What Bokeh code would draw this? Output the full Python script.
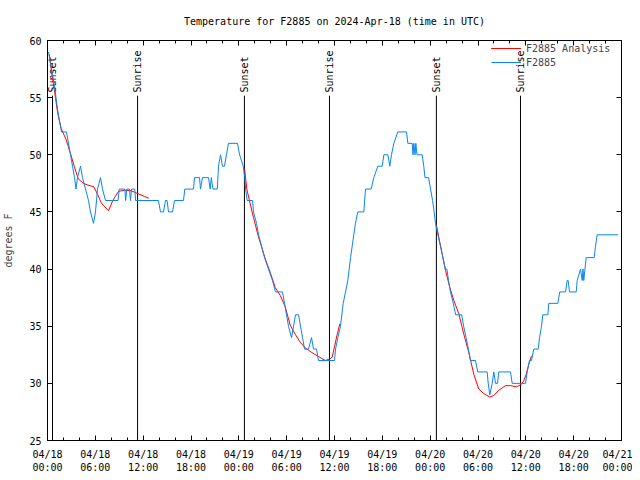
from math import pi
from bokeh.plotting import figure
from bokeh.models import Range1d, FixedTicker, LinearAxis, CustomJSTickFormatter
from bokeh.core.properties import value
from bokeh.embed import file_html
from bokeh.resources import INLINE

FONT = "DejaVu Sans Mono"

title_text = "Temperature for F2885 on 2024-Apr-18 (time in UTC)"
y_label = "degrees F"

# hours since 04/18 00:00 UTC
x_tick_hours = [0, 6, 12, 18, 24, 30, 36, 42, 48, 54, 60, 66, 72]
x_tick_labels = ["04/18\n00:00", "04/18\n06:00", "04/18\n12:00", "04/18\n18:00",
                 "04/19\n00:00", "04/19\n06:00", "04/19\n12:00", "04/19\n18:00",
                 "04/20\n00:00", "04/20\n06:00", "04/20\n12:00", "04/20\n18:00",
                 "04/21\n00:00"]
x_minor_hours = list(range(0, 73, 2))
y_ticks = [25, 30, 35, 40, 45, 50, 55, 60]

sunset_hours = [0.63, 24.7, 48.78]
sunrise_hours = [11.3, 35.37, 59.33]

f2885_hours = [0.13, 0.38, 0.63, 0.88, 1.07, 1.25, 1.5, 1.76, 2.38, 2.63, 2.89, 3.14, 3.39, 3.58, 3.76,
               4.14, 4.39, 4.77, 5.14, 5.39, 5.77, 6.02, 6.27, 6.65, 6.9, 7.28, 8.85, 9.0, 9.7, 9.8,
               9.95, 10.3, 10.4, 10.55, 10.95, 11.05, 13.92, 14.17, 14.55, 14.8, 15.0, 15.18, 15.68,
               15.93, 17.06, 17.22, 18.31, 18.44, 19.07, 19.19, 19.44, 20.2, 20.4, 20.55, 20.75, 21.3,
               21.45, 21.7, 21.95, 22.2, 22.45, 22.7, 23.83, 24.1, 24.55, 24.75, 24.85, 25.05, 25.72,
               25.84, 26.22, 26.47, 26.85, 27.22, 27.72, 28.22, 28.6, 29.48, 29.73, 29.98, 30.23,
               30.61, 30.86, 31.11, 31.49, 31.74, 31.99, 32.24, 32.74, 33.12, 33.37, 33.74, 33.99,
               36.0, 36.13, 36.42, 36.75, 37.09, 37.38, 37.67, 38.01, 38.22, 38.42, 38.63, 38.92,
               39.68, 39.89, 40.6, 40.93, 41.43, 41.98, 42.19, 42.69, 42.94, 43.15, 43.44, 43.94,
               45.03, 45.2, 45.75, 45.85, 45.95, 46.1, 46.2, 46.35, 47.0, 47.2, 47.35, 47.8, 48.05,
               48.3, 48.5, 48.67, 48.96, 49.3, 49.6, 49.9, 50.1, 50.3, 50.55, 50.9, 51.2, 51.95,
               52.2, 52.5, 52.8, 53.05, 53.69, 53.97, 55.15, 55.28, 55.48, 55.78, 55.98, 56.2,
               56.45, 56.61, 58.08, 58.29, 59.96, 60.17, 60.46, 60.71, 61.0, 61.55, 61.72, 61.97,
               62.13, 62.76, 62.88, 64.01, 64.26, 64.98, 65.19, 65.31, 65.48, 66.32, 66.44, 66.86,
               67.07, 67.17, 67.27, 67.42, 67.57, 68.57, 68.74, 68.95, 71.59]
f2885_temp = [59, 58, 57, 56, 55, 54, 53, 52, 52, 51, 50, 49, 48, 47, 48,
              49, 48, 47, 46, 45, 44, 45, 47, 48, 47, 46, 46, 47, 47, 46,
              47, 47, 46, 47, 47, 46, 46, 45, 45, 46, 46, 45, 45,
              46, 46, 47, 47, 48, 48, 47, 48, 48, 47, 48, 47, 47,
              49, 50, 49, 49, 50, 51, 51, 50, 49, 48, 47, 46, 46,
              45, 44, 43, 42, 41, 40, 39, 38, 38, 37, 36, 35,
              34, 35, 36, 36, 35, 34, 33, 33, 34, 33, 33, 32,
              32, 33, 34, 35, 37, 38, 39, 41, 42, 43, 44, 45,
              45, 47, 47, 48, 49, 49, 50, 50, 49, 50, 51, 52,
              52, 51, 51, 50, 51, 50, 51, 50, 50, 49, 48, 48, 47,
              46, 45, 44, 43, 42, 41, 40, 40, 39, 38, 37, 36, 36,
              35, 34, 33, 32, 32, 31, 31, 30, 29, 30, 31, 30,
              30, 31, 31, 30, 30, 31, 32, 32, 33, 33, 34, 35,
              36, 36, 37, 37, 38, 38, 39, 39, 38, 38, 39, 40,
              39, 40, 39, 40, 41, 41, 42, 43, 43]

analysis_a_hours = [0.22, 0.6, 1.0, 1.29, 1.72, 2.35, 2.97, 3.35, 3.85, 4.5, 5.06, 5.81, 6.31, 6.74,
                    7.65, 8.19, 8.91, 9.66, 10.5, 11.33, 12.17, 12.71]
analysis_a_temp = [58.8, 56.8, 55.0, 53.6, 52.3, 51.3, 49.9, 49.0, 47.9, 47.5, 47.35, 47.2, 46.5, 45.8,
                   45.1, 46.0, 46.8, 46.9, 46.85, 46.6, 46.35, 46.2]
analysis_b_hours = [24.72, 25.0, 25.43, 25.84, 26.47, 26.88, 27.31, 27.94, 28.56, 29.19, 29.82, 30.44,
                    31.07, 31.7, 32.33, 33.15, 33.99, 34.83, 35.46, 35.71, 36.0, 36.34, 36.67]
analysis_b_temp = [48.8, 47.0, 45.7, 44.5, 42.8, 41.9, 40.9, 39.7, 38.4, 37.7, 36.7, 35.1,
                   34.3, 33.6, 33.1, 32.7, 32.35, 32.0, 32.15, 32.3, 33.2, 34.3, 35.2]
analysis_c_hours = [48.8, 49.08, 49.51, 49.92, 50.46, 50.97, 51.59, 52.22, 52.85, 53.47, 54.1, 54.73,
                    55.48, 55.98, 56.61, 57.45, 58.08, 58.83, 59.42, 59.75, 60.05, 60.38, 60.71]
analysis_c_temp = [43.8, 42.8, 41.3, 39.9, 38.4, 37.25, 36.1, 34.3, 32.7, 30.8, 29.5, 29.1,
                   28.8, 28.94, 29.4, 29.8, 29.8, 29.7, 29.9, 30.25, 30.8, 31.7, 32.4]

RED = "#ff0000"
BLUE = "#0a84f0"

x0, x1 = x_tick_hours[0], x_tick_hours[-1]
y0, y1 = y_ticks[0], y_ticks[-1]

p = figure(width=632, height=475, output_backend="svg", toolbar_location=None,
           x_range=Range1d(x0, x1), y_range=Range1d(y0, y1),
           min_border_left=47, min_border_right=11, min_border_top=40, min_border_bottom=35)
p.background_fill_color = "white"
p.border_fill_color = "white"
p.outline_line_color = "black"
p.outline_line_width = 1
p.xgrid.visible = False
p.ygrid.visible = False

p.title.text = title_text
p.title.align = "center"
p.title.text_font = FONT
p.title.text_font_size = "10px"
p.title.text_font_style = "normal"
p.title.text_color = "black"
p.title.standoff = 27

xt = FixedTicker(ticks=x_tick_hours, minor_ticks=x_minor_hours)
yt = FixedTicker(ticks=y_ticks, minor_ticks=[])


def style_axis(ax):
    ax.axis_line_color = "black"
    ax.major_tick_line_color = "black"
    ax.minor_tick_line_color = "black"
    ax.major_tick_in = 5
    ax.major_tick_out = 0
    ax.minor_tick_in = 3
    ax.minor_tick_out = 0
    ax.major_label_text_font = FONT
    ax.major_label_text_font_size = "10px"
    ax.major_label_text_color = "black"


p.xaxis.ticker = xt
p.yaxis.ticker = yt
style_axis(p.xaxis[0])
style_axis(p.yaxis[0])
p.xaxis.major_label_overrides = {h: lab for h, lab in zip(x_tick_hours, x_tick_labels)}
p.xaxis.major_label_standoff = 8
p.yaxis.major_label_standoff = 6
p.yaxis.axis_label = y_label
p.yaxis.axis_label_text_font = FONT
p.yaxis.axis_label_text_font_size = "10px"
p.yaxis.axis_label_text_font_style = "normal"
p.yaxis.axis_label_standoff = 12

blank = CustomJSTickFormatter(code="return ''")
top_axis = LinearAxis(ticker=xt, formatter=blank, major_label_standoff=0)
style_axis(top_axis)
p.add_layout(top_axis, "above")
right_axis = LinearAxis(ticker=yt, formatter=blank, major_label_standoff=0)
style_axis(right_axis)
p.add_layout(right_axis, "right")

# sunrise / sunset markers
line_top = y0 + 0.862 * (y1 - y0)
label_y = y0 + 0.87 * (y1 - y0)
sun_x = sunset_hours + sunrise_hours
sun_text = ["Sunset"] * len(sunset_hours) + ["Sunrise"] * len(sunrise_hours)
p.segment(x0=sun_x, y0=[y0] * len(sun_x), x1=sun_x, y1=[line_top] * len(sun_x),
          line_color="black", line_width=1)
p.text(x=sun_x, y=[label_y] * len(sun_x), text=sun_text, angle=pi / 2,
       text_font=value(FONT), text_font_size="10px", text_align="left",
       text_baseline="middle", text_color="black")

for hx, ty in [(analysis_a_hours, analysis_a_temp), (analysis_b_hours, analysis_b_temp),
               (analysis_c_hours, analysis_c_temp)]:
    p.line(hx, ty, line_color=RED, line_width=1, legend_label="F2885 Analysis")
p.line(f2885_hours, f2885_temp, line_color=BLUE, line_width=1, legend_label="F2885")

lg = p.legend[0]
lg.location = (444, 371)
lg.border_line_color = None
lg.background_fill_alpha = 0
lg.label_text_font = FONT
lg.label_text_font_size = "10px"
lg.glyph_width = 30
lg.glyph_height = 14
lg.label_height = 14
lg.label_standoff = 5
lg.spacing = 0
lg.padding = 2
lg.margin = 0

open("out.html", "w").write(file_html(p, INLINE))
